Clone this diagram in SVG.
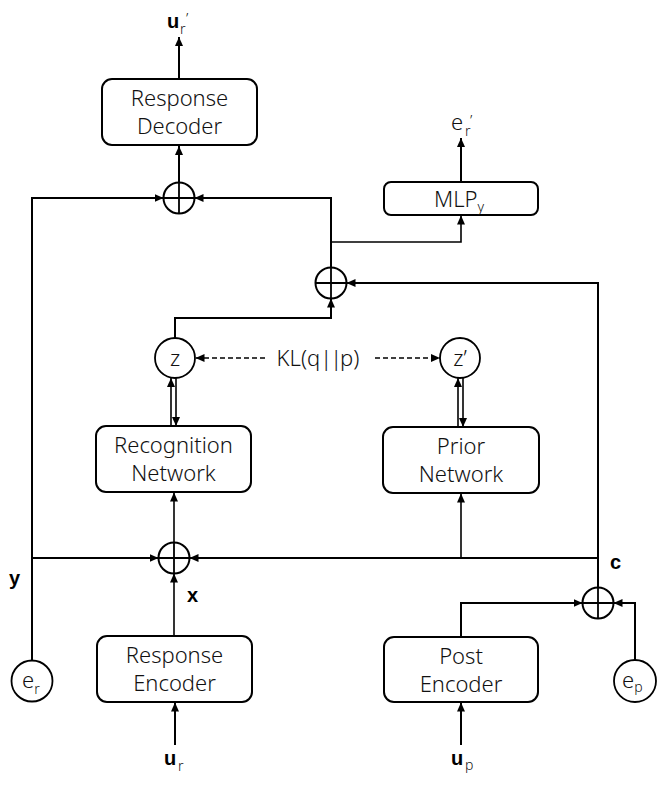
<svg xmlns="http://www.w3.org/2000/svg" width="667" height="787" viewBox="0 0 667 787">
<style>
.box{fill:#fff;stroke:#000;stroke-width:2}
.circ{fill:#fff;stroke:#000;stroke-width:1.8}
.t{font-family:'Noto Sans','Liberation Sans',Arial,sans-serif;font-weight:300;font-size:22px;fill:#111;text-anchor:middle}
.n{font-family:'Noto Sans','Liberation Sans',Arial,sans-serif;font-weight:300;fill:#111}
.b{font-family:'Liberation Sans',Arial,sans-serif;font-weight:bold;font-size:20px;fill:#000}
.ln{fill:none;stroke:#000;stroke-width:2}
.thin{fill:none;stroke:#000;stroke-width:1.6}
.dash{fill:none;stroke:#000;stroke-width:1.6;stroke-dasharray:5 3}
</style>
<defs>
<marker id="ah" markerUnits="userSpaceOnUse" markerWidth="10" markerHeight="8" refX="9" refY="4" orient="auto">
<path d="M0,0 L9,4 L0,8 z" fill="#000"/>
</marker>
<g id="oplus-shape">
<circle cx="0" cy="0" r="15.5" fill="#fff" stroke="#000" stroke-width="2"/>
<path d="M-15.5,0 H15.5 M0,-15.5 V15.5" stroke="#000" stroke-width="1.8"/>
</g>
</defs>

<g id="connectors">
<path class="ln" d="M179,79 V37" marker-end="url(#ah)"/>
<path class="ln" d="M179,182.5 V146" marker-end="url(#ah)"/>
<path class="ln" d="M32,660.5 V198 H163.5" marker-end="url(#ah)"/>
<path class="ln" d="M32,558 H158.5" marker-end="url(#ah)"/>
<path class="ln" d="M331,267.5 V198 H194.5" marker-end="url(#ah)"/>
<path class="thin" d="M331,242 H461 V215.5" marker-end="url(#ah)"/>
<path class="ln" d="M461,182 V138" marker-end="url(#ah)"/>
<path class="ln" d="M175,338 V318 H331 V298.5" marker-end="url(#ah)"/>
<path class="ln" d="M598,587.5 V283 H346.5" marker-end="url(#ah)"/>
<path class="ln" d="M598,558 H189.5" marker-end="url(#ah)"/>
<path class="thin" d="M461,558 V493.5" marker-end="url(#ah)"/>
<path class="thin" d="M174,636 V573.5" marker-end="url(#ah)"/>
<path class="thin" d="M174,542.5 V492.5" marker-end="url(#ah)"/>
<path class="thin" d="M171,426 V378" marker-end="url(#ah)"/>
<path class="thin" d="M176,378 V426" marker-end="url(#ah)"/>
<path class="thin" d="M458,427 V378" marker-end="url(#ah)"/>
<path class="thin" d="M463,378 V427" marker-end="url(#ah)"/>
<path class="ln" d="M461,637 V603 H582.5" marker-end="url(#ah)"/>
<path class="ln" d="M635,660 V603 H613.5" marker-end="url(#ah)"/>
<path class="ln" d="M175,745 V702.5" marker-end="url(#ah)"/>
<path class="ln" d="M461,745 V702.5" marker-end="url(#ah)"/>
<path class="dash" d="M265,358 H195.5" marker-end="url(#ah)"/>
<path class="dash" d="M375,358 H440" marker-end="url(#ah)"/>
</g>

<g id="response-decoder">
<rect class="box" x="102" y="79" width="155" height="66" rx="10"/>
<text class="t" x="179.5" y="106">Response</text>
<text class="t" x="179.5" y="134">Decoder</text>
</g>
<g id="mlp">
<rect class="box" x="384" y="182" width="154" height="33" rx="7"/>
<text class="n" x="434" y="207" font-size="22">MLP<tspan font-size="14" dy="5">y</tspan></text>
</g>
<g id="recognition-network">
<rect class="box" x="96" y="426" width="155" height="66" rx="10"/>
<text class="t" x="173.5" y="453">Recognition</text>
<text class="t" x="173.5" y="481">Network</text>
</g>
<g id="prior-network">
<rect class="box" x="383" y="427" width="156" height="66" rx="10"/>
<text class="t" x="461" y="454">Prior</text>
<text class="t" x="461" y="482">Network</text>
</g>
<g id="response-encoder">
<rect class="box" x="97" y="636" width="155" height="66" rx="10"/>
<text class="t" x="174.5" y="663">Response</text>
<text class="t" x="174.5" y="691">Encoder</text>
</g>
<g id="post-encoder">
<rect class="box" x="384" y="637" width="154" height="65" rx="10"/>
<text class="t" x="461" y="664">Post</text>
<text class="t" x="461" y="692">Encoder</text>
</g>

<g id="z">
<circle class="circ" cx="175" cy="358" r="20"/>
<text class="t" x="175" y="366" font-size="23">z</text>
</g>
<g id="z-prime">
<circle class="circ" cx="460" cy="358" r="20"/>
<text class="t" x="460" y="366" font-size="23">z’</text>
</g>
<g id="kl-label">
<text class="t" x="318" y="366" font-size="23">KL(q<tspan letter-spacing="-2">||</tspan>p)</text>
</g>
<g id="e-r">
<circle class="circ" cx="32" cy="681" r="20.5"/>
<text class="n" x="22" y="688" font-size="22">e<tspan font-size="14" dy="6">r</tspan></text>
</g>
<g id="e-p">
<circle class="circ" cx="635" cy="681" r="21"/>
<text class="n" x="622" y="688" font-size="22">e<tspan font-size="14" dy="4">p</tspan></text>
</g>

<g id="oplus-decoder"><use href="#oplus-shape" x="179" y="198"/></g>
<g id="oplus-mid"><use href="#oplus-shape" x="331" y="283"/></g>
<g id="oplus-x"><use href="#oplus-shape" x="174" y="558"/></g>
<g id="oplus-c"><use href="#oplus-shape" x="598" y="603"/></g>

<g id="label-ur-out">
<text class="b" x="167" y="28">u</text>
<text class="n" x="180" y="34" font-size="14">r</text>
<text class="n" x="186" y="24" font-size="15">’</text>
</g>
<g id="label-er-out">
<text class="n" x="451" y="130" font-size="22">e</text>
<text class="n" x="465" y="136" font-size="14">r</text>
<text class="n" x="470" y="126" font-size="15">’</text>
</g>
<g id="label-y"><text class="b" x="9" y="585">y</text></g>
<g id="label-x"><text class="b" x="187" y="602">x</text></g>
<g id="label-c"><text class="b" x="610" y="569">c</text></g>
<g id="label-ur">
<text class="b" x="164" y="765">u</text>
<text class="n" x="178" y="771" font-size="14">r</text>
</g>
<g id="label-up">
<text class="b" x="451" y="765">u</text>
<text class="n" x="465" y="770" font-size="14">p</text>
</g>
</svg>
